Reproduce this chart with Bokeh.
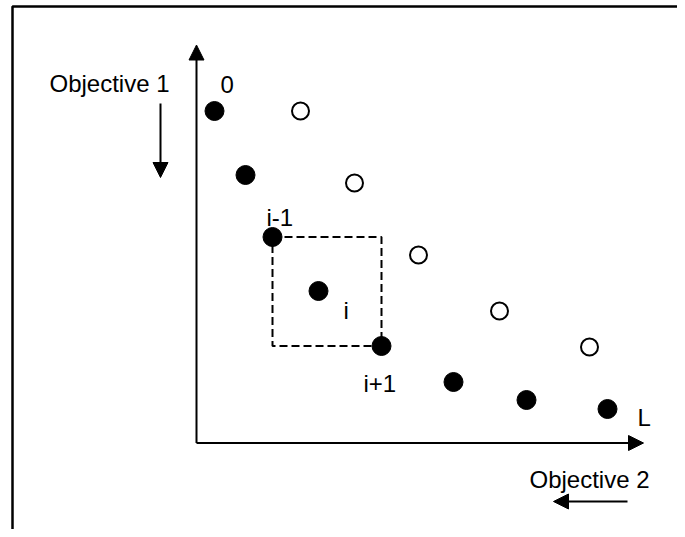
from bokeh.plotting import figure
from bokeh.models import Range1d, Arrow, NormalHead, ColumnDataSource
from bokeh.core.properties import value
from bokeh.embed import file_html
from bokeh.resources import INLINE

# Non-dominated front (filled points): objective 2 (x) and objective 1 (y)
front_obj2 = [18, 49, 76, 122, 185, 257, 330, 411]
front_obj1 = [332, 268, 206, 152, 97, 61, 43, 34]

# Dominated solutions (open circles)
dominated_obj2 = [104, 158, 222, 303, 393]
dominated_obj1 = [332, 260, 188, 132, 96]

# Labels attached to front points
label_text = ["0", "i-1", "i", "i+1", "L"]
label_index = [0, 2, 3, 4, 7]

# Axis extents (arrow tips)
x_axis_end = 447
y_axis_end = 398

FONT = value("Liberation Sans")

W, H = 677, 529
p = figure(width=W, height=H, output_backend="svg", toolbar_location=None,
           x_range=Range1d(-196, W - 196), y_range=Range1d(442.5 - H, 442.5),
           min_border=0, outline_line_color=None)
p.axis.visible = False
p.grid.visible = False
p.background_fill_color = "white"

# outer frame (left and top edges)
p.line([-184, -184, W - 196], [442.5 - H, 436.5, 436.5], line_color="black", line_width=2.5)

# axes as arrows
p.add_layout(Arrow(end=NormalHead(size=15, fill_color="black", line_color="black"),
                   x_start=0, y_start=0, x_end=0, y_end=y_axis_end,
                   line_color="black", line_width=2))
p.add_layout(Arrow(end=NormalHead(size=15, fill_color="black", line_color="black"),
                   x_start=0, y_start=0, x_end=x_axis_end, y_end=0,
                   line_color="black", line_width=2))

# direction arrows
p.add_layout(Arrow(end=NormalHead(size=15, fill_color="black", line_color="black"),
                   x_start=-36, y_start=339.5, x_end=-36, y_end=265.5,
                   line_color="black", line_width=2))
p.add_layout(Arrow(end=NormalHead(size=15, fill_color="black", line_color="black"),
                   x_start=431, y_start=-58.5, x_end=357, y_end=-58.5,
                   line_color="black", line_width=2))

# axis titles
p.text(x=[-147], y=[359.8], text=["Objective 1"], text_font=FONT,
       text_font_size="24px", text_color="black", text_baseline="alphabetic",
       text_align="left")
p.text(x=[333], y=[-36.5], text=["Objective 2"], text_font=FONT,
       text_font_size="24px", text_color="black", text_baseline="alphabetic",
       text_align="left")

# dashed box between i-1 and i+1
a, b = label_index[1], label_index[3]
bx = [front_obj2[a], front_obj2[b], front_obj2[b], front_obj2[a], front_obj2[a]]
by = [front_obj1[a], front_obj1[a], front_obj1[b], front_obj1[b], front_obj1[a]]
p.line(bx, by, line_color="black", line_width=2, line_dash="8 4")

# points
p.scatter(dominated_obj2, dominated_obj1, size=17, fill_color="white",
          line_color="black", line_width=2)
p.scatter(front_obj2, front_obj1, size=19, fill_color="black", line_color="black")

# point labels
x_off = [6, -6, 25, -18, 30]
y_off = [-27, -20, 19, 37, 8]
src = ColumnDataSource(dict(
    x=[front_obj2[k] for k in label_index],
    y=[front_obj1[k] for k in label_index],
    t=label_text, xo=x_off, yo=y_off))
p.text(x="x", y="y", text="t", x_offset="xo", y_offset="yo", source=src,
       text_font=FONT, text_font_size="24px", text_color="black",
       text_baseline="alphabetic", text_align="left")

open("out.html", "w").write(file_html(p, INLINE))
